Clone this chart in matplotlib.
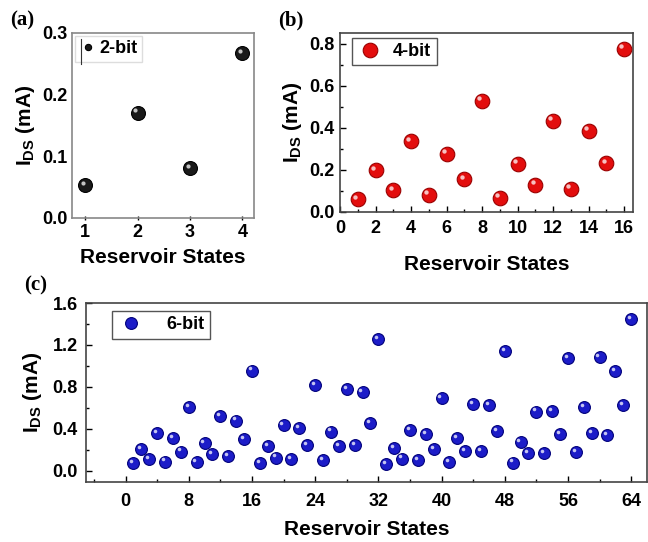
import matplotlib
matplotlib.use("Agg")
from matplotlib import pyplot as plt
from matplotlib import transforms
from matplotlib.ticker import MultipleLocator
from matplotlib.lines import Line2D

plt.rcParams['font.family'] = ['Liberation Sans', 'DejaVu Sans']
plt.rcParams['font.weight'] = 'bold'
plt.rcParams['mathtext.fontset'] = 'custom'
plt.rcParams['mathtext.rm'] = 'Liberation Sans:bold'
plt.rcParams['mathtext.bf'] = 'Liberation Sans:bold'
plt.rcParams['axes.linewidth'] = 1.2

# 2-bit
states_2 = [1, 2, 3, 4]
ids_2 = [0.053, 0.171, 0.081, 0.267]

# 4-bit
states_4 = list(range(1, 17))
ids_4 = [0.060, 0.198, 0.103, 0.336, 0.082, 0.276, 0.155, 0.528,
         0.068, 0.230, 0.128, 0.432, 0.109, 0.385, 0.231, 0.776]

# 6-bit
states_6 = list(range(1, 65))
ids_6 = [0.074, 0.210, 0.110, 0.365, 0.090, 0.310, 0.185, 0.610,
         0.083, 0.270, 0.157, 0.520, 0.144, 0.480, 0.300, 0.957,
         0.074, 0.234, 0.128, 0.440, 0.115, 0.406, 0.250, 0.820,
         0.106, 0.375, 0.237, 0.780, 0.246, 0.755, 0.460, 1.260,
         0.070, 0.218, 0.118, 0.390, 0.100, 0.350, 0.208, 0.694,
         0.086, 0.310, 0.190, 0.640, 0.190, 0.630, 0.384, 1.142,
         0.080, 0.275, 0.170, 0.566, 0.173, 0.570, 0.352, 1.072,
         0.182, 0.608, 0.358, 1.085, 0.340, 0.950, 0.630, 1.443]

TICK_FS = 13
LABEL_FS = 15
YLABEL = r'$\mathregular{I_{DS}}$ (mA)'


def sphere(ax, fig, x, y, color, edge, ms, label):
    # ball with a small highlight to look like the shaded markers
    ax.plot(x, y, 'o', color=color, mec=edge, mew=0.8, ms=ms, label=label, zorder=3)
    hl = transforms.offset_copy(ax.transData, fig=fig, x=-ms * 0.18, y=ms * 0.18, units='points')
    ax.plot(x, y, 'o', color='white', alpha=0.75, mew=0, ms=ms * 0.3, transform=hl, zorder=4)


def style(ax, spine_color='#444444'):
    ax.tick_params(direction='in', which='both', labelsize=TICK_FS, top=False, right=False)
    ax.tick_params(which='major', length=4, width=1)
    ax.tick_params(which='minor', length=2.5, width=1)
    for lab in ax.get_xticklabels() + ax.get_yticklabels():
        lab.set_fontweight('bold')
    for s in ax.spines.values():
        s.set_color(spine_color)


fig = plt.figure(figsize=(6.48, 5.42), dpi=100)
W, H = 648, 542

# (a)
ax_a = fig.add_axes([72 / W, 1 - 218 / H, (254 - 72) / W, (218 - 33) / H])
sphere(ax_a, fig, states_2, ids_2, '#1a1a1a', 'black', 10, '2-bit')
ax_a.set_xlim(0.75, 4.22)
ax_a.set_ylim(0, 0.3)
ax_a.xaxis.set_major_locator(MultipleLocator(1))
ax_a.yaxis.set_major_locator(MultipleLocator(0.1))
ax_a.yaxis.set_major_formatter('{x:.1f}')
style(ax_a, '#888888')
ax_a.tick_params(axis='x', direction='inout', length=3, pad=3)
ax_a.tick_params(axis='y', length=0, pad=3)
ax_a.set_xlabel('Reservoir States', fontsize=LABEL_FS, fontweight='bold', labelpad=5)
ax_a.set_ylabel(YLABEL, fontsize=LABEL_FS, fontweight='bold', labelpad=4)
ax_a.legend(loc='upper left', fontsize=TICK_FS, markerscale=0.45, fancybox=False,
            edgecolor='#dddddd', handletextpad=0.1, borderaxespad=0.15, borderpad=0.25,
            handlelength=1.0, framealpha=1)
ax_a.add_line(Line2D([0.05, 0.05], [0.83, 0.97], transform=ax_a.transAxes,
                     color='#333333', lw=0.8, zorder=6))

# (b)
ax_b = fig.add_axes([340 / W, 1 - 212 / H, (633 - 340) / W, (212 - 33) / H])
sphere(ax_b, fig, states_4, ids_4, '#e30d0d', '#9a0000', 10.5, '4-bit')
ax_b.set_xlim(0, 16.5)
ax_b.set_ylim(0, 0.85)
ax_b.xaxis.set_major_locator(MultipleLocator(2))
ax_b.xaxis.set_minor_locator(MultipleLocator(1))
ax_b.yaxis.set_major_locator(MultipleLocator(0.2))
ax_b.yaxis.set_minor_locator(MultipleLocator(0.1))
ax_b.yaxis.set_major_formatter('{x:.1f}')
style(ax_b)
ax_b.tick_params(axis='x', pad=6)
ax_b.tick_params(axis='y', pad=4)
ax_b.set_xlabel('Reservoir States', fontsize=LABEL_FS, fontweight='bold', labelpad=13)
ax_b.set_ylabel(YLABEL, fontsize=LABEL_FS, fontweight='bold', labelpad=4)
ax_b.legend(loc='upper left', bbox_to_anchor=(0.04, 0.974), fontsize=TICK_FS,
            fancybox=False, edgecolor='#555555', handletextpad=0.6, borderaxespad=0,
            handlelength=1.4, framealpha=1, borderpad=0.3)

# (c)
ax_c = fig.add_axes([86 / W, 1 - 482 / H, (647 - 86) / W, (482 - 303) / H])
sphere(ax_c, fig, states_6, ids_6, '#1c1cc8', '#00007a', 8.5, '6-bit')
ax_c.set_xlim(-5, 66)
ax_c.set_ylim(-0.105, 1.6)
ax_c.xaxis.set_major_locator(MultipleLocator(8))
ax_c.xaxis.set_minor_locator(MultipleLocator(4))
ax_c.yaxis.set_major_locator(MultipleLocator(0.4))
ax_c.yaxis.set_minor_locator(MultipleLocator(0.2))
ax_c.yaxis.set_major_formatter('{x:.1f}')
style(ax_c)
ax_c.set_xticks([0, 8, 16, 24, 32, 40, 48, 56, 64])
ax_c.set_xticklabels([str(v) for v in [0, 8, 16, 24, 32, 40, 48, 56, 64]], fontweight='bold')
ax_c.tick_params(axis='x', pad=8)
ax_c.tick_params(axis='y', pad=6)
ax_c.set_xlabel('Reservoir States', fontsize=LABEL_FS, fontweight='bold', labelpad=7)
ax_c.set_ylabel(YLABEL, fontsize=LABEL_FS, fontweight='bold', labelpad=6)
ax_c.legend(loc='upper left', bbox_to_anchor=(0.046, 0.955), fontsize=TICK_FS,
            fancybox=False, edgecolor='#555555', handletextpad=1.2, borderaxespad=0,
            handlelength=1.5, framealpha=1, borderpad=0.3)

for txt, x, y in [('(a)', 10, 20), ('(b)', 278, 20), ('(c)', 24, 285)]:
    fig.text(x / W, 1 - y / H, txt, family='Liberation Serif', fontweight='bold',
             fontsize=15, va='center')

fig.savefig('out.png', dpi=100)
